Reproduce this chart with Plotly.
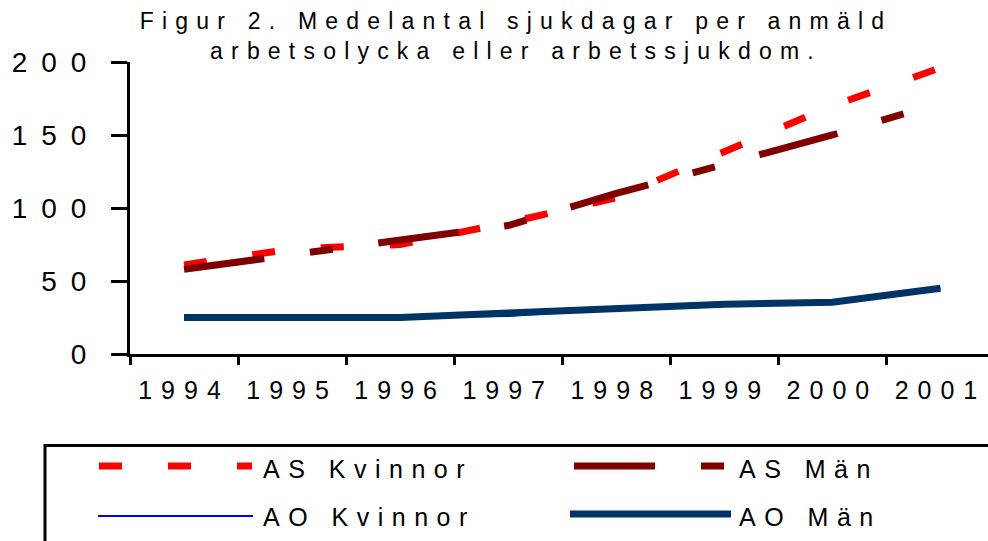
import plotly.graph_objects as go

# ---- data ----
years = ["1994", "1995", "1996", "1997", "1998", "1999", "2000", "2001"]
as_kvinnor = [61, 72, 75, 90, 107, 139, 170, 196]
as_man = [58, 68, 78, 88, 110, 130, 150, 172]
ao_kvinnor = [25, 25, 25, 26, 31, 34, 35.5, 45]
ao_man = [25, 25, 25, 28, 31, 34, 35.5, 45]
y_ticks = [0, 50, 100, 150, 200]
series_names = ["AS Kvinnor", "AS Män", "AO Kvinnor", "AO Män"]
title_text = "Figur 2. Medelantal sjukdagar per anmäld<br>arbetsolycka eller arbetssjukdom."

# ---- layout geometry (pixels) ----
WIDTH, HEIGHT = 988, 541
L, R, T, B = 130, 0, 62, 187
PW = WIDTH - L - R
PH = HEIGHT - T - B
FONT = "Liberation Sans, Arial, sans-serif"


def px_x(px):
    return (px - L) / PW


def px_y(py):
    return (T + PH - py) / PH


styles = [
    dict(color="#FF0000", width=7, dash="23px,46px"),
    dict(color="#800000", width=7, dash="81px,46px,23px,46px"),
    dict(color="#0000FF", width=2, dash="solid"),
    dict(color="#003366", width=7, dash="solid"),
]
values = [as_kvinnor, as_man, ao_kvinnor, ao_man]

fig = go.Figure()
for name, vals, st in zip(series_names, values, styles):
    fig.add_trace(go.Scatter(
        x=years, y=vals, name=name, mode="lines",
        line=dict(color=st["color"], width=st["width"], dash=st["dash"]),
        showlegend=False,
    ))

# ---- hand-drawn legend (long symbol samples as in the original) ----
shapes = [
    dict(type="rect", xref="paper", yref="paper",
         x0=px_x(45), x1=px_x(1000), y0=px_y(445.5), y1=px_y(560),
         line=dict(color="black", width=3), fillcolor="rgba(0,0,0,0)"),
]
legend_pos = [
    (99, 252, 466, 261, 469),   # AS Kvinnor
    (574, 724, 466, 737, 469),  # AS Män
    (98, 253, 516, 261, 517),   # AO Kvinnor
    (570, 731, 514, 737, 517),  # AO Män
]
annotations = []
for name, st, (sx0, sx1, sy, tx, ty) in zip(series_names, styles, legend_pos):
    shapes.append(dict(type="line", xref="paper", yref="paper",
                       x0=px_x(sx0), x1=px_x(sx1), y0=px_y(sy), y1=px_y(sy),
                       line=dict(color=st["color"], width=st["width"], dash=st["dash"])))
    annotations.append(dict(text=name, xref="paper", yref="paper",
                            x=px_x(tx), y=px_y(ty), xanchor="left", yanchor="middle",
                            align="left", showarrow=False,
                            font=dict(family=FONT, size=25, color="black")))

fig.update_layout(
    template="none",
    width=WIDTH, height=HEIGHT,
    margin=dict(l=L, r=R, t=T, b=B, pad=0, autoexpand=False),
    paper_bgcolor="white", plot_bgcolor="white",
    font=dict(family=FONT, color="black"),
    title=dict(text=title_text, x=516 / WIDTH, xref="container", xanchor="center",
               y=1 - 29 / HEIGHT, yref="container", yanchor="top",
               font=dict(family=FONT, size=23, color="black")),
    xaxis=dict(type="category", categoryorder="array", categoryarray=years,
               range=[-0.5, 7.44], tickson="boundaries", ticks="outside",
               ticklen=8, tickwidth=3, tickcolor="black",
               showline=True, linewidth=3, linecolor="black",
               showgrid=False, zeroline=False, automargin=False,
               tickfont=dict(family=FONT, size=25, color="black"),
               ticklabelstandoff=12),
    yaxis=dict(range=[0, 200], tickvals=y_ticks, ticks="outside",
               ticklen=16, tickwidth=3, tickcolor="black",
               showline=True, linewidth=3, linecolor="black",
               showgrid=False, zeroline=False, automargin=False,
               tickfont=dict(family=FONT, size=28, color="black"),
               ticklabelstandoff=5),
    shapes=shapes,
    annotations=annotations,
)

post = """
document.body.style.margin = '0';
document.body.style.padding = '0';
var gd = document.getElementById('{plot_id}');
function spaceText(){
  gd.querySelectorAll('.xtick text').forEach(function(t){t.style.letterSpacing='9px';});
  gd.querySelectorAll('.ytick text').forEach(function(t){t.style.letterSpacing='14px';});
  gd.querySelectorAll('.gtitle').forEach(function(t){t.style.letterSpacing='8.2px';});
  gd.querySelectorAll('.annotation-text').forEach(function(t){t.style.letterSpacing='8.5px';});
}
spaceText();
gd.on('plotly_afterplot', spaceText);
"""

fig.write_html("out.html", post_script=post, config={"displayModeBar": False})
